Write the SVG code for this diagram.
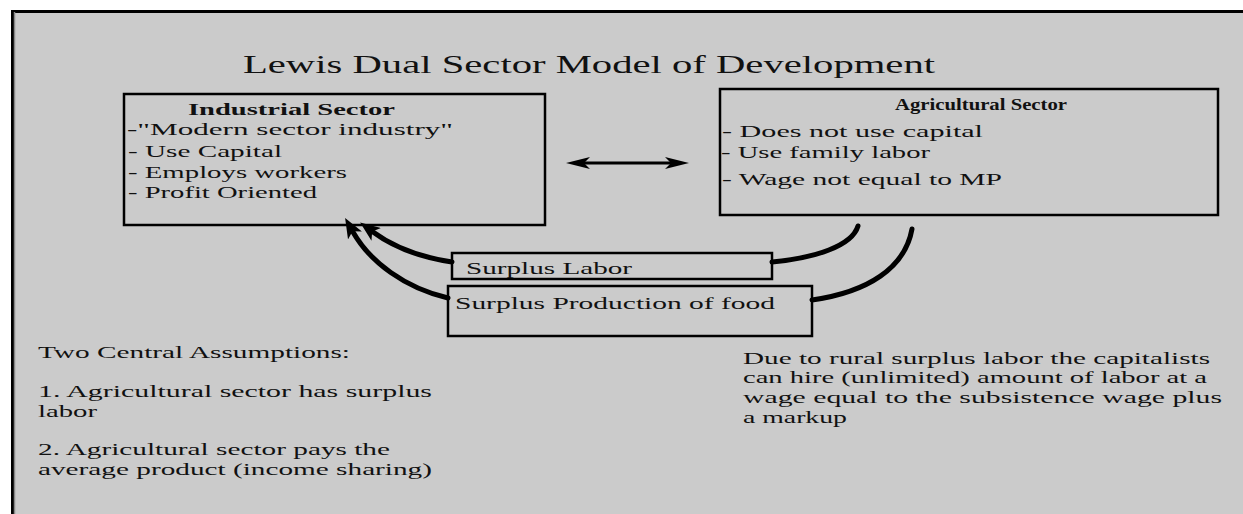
<svg xmlns="http://www.w3.org/2000/svg" width="1243" height="514" viewBox="0 0 1243 514">
<defs>
<style>
.t{font-family:"Liberation Serif","Times New Roman",serif;fill:#111;}
.b{font-size:17px;}
.h{font-size:17px;font-weight:bold;}
.box{fill:none;stroke:#000;stroke-width:2.5;}
.flow{fill:none;stroke:#000;stroke-width:5;stroke-linecap:round;}
</style>
<marker id="ah" viewBox="0 0 20 16" refX="4" refY="8" markerWidth="20" markerHeight="16" markerUnits="userSpaceOnUse" orient="auto">
<path d="M0,0 L20,8 L0,16 L5,8 Z" fill="#000"/>
</marker>
<marker id="dh" viewBox="0 0 24 12" refX="6" refY="6" markerWidth="24" markerHeight="12" markerUnits="userSpaceOnUse" orient="auto-start-reverse">
<path d="M0,0 L24,6 L0,12 L6,6 Z" fill="#000"/>
</marker>
</defs>
<rect x="0" y="0" width="1243" height="514" fill="#fff"/>
<rect x="12" y="10" width="1231" height="504" fill="#cbcbcb"/>
<line x1="12" y1="11.5" x2="1243" y2="11.5" stroke="#000" stroke-width="3"/>
<line x1="12.5" y1="10" x2="12.5" y2="514" stroke="#000" stroke-width="3"/>
<line x1="14.5" y1="12" x2="14.5" y2="514" stroke="#888" stroke-width="1.5"/>

<text id="title" class="t" x="243" y="73" font-size="26" textLength="692" lengthAdjust="spacingAndGlyphs">Lewis Dual Sector Model of Development</text>

<g id="industrial">
<rect class="box" x="124" y="94" width="421" height="131"/>
<text class="t h" x="188" y="115" textLength="207" lengthAdjust="spacingAndGlyphs">Industrial Sector</text>
<text class="t b" x="127" y="135" textLength="326" lengthAdjust="spacingAndGlyphs">-"Modern sector industry"</text>
<text class="t b" x="128" y="157" textLength="154" lengthAdjust="spacingAndGlyphs">- Use Capital</text>
<text class="t b" x="128" y="178" textLength="219" lengthAdjust="spacingAndGlyphs">- Employs workers</text>
<text class="t b" x="128" y="198" textLength="189" lengthAdjust="spacingAndGlyphs">- Profit Oriented</text>
</g>

<g id="agricultural">
<rect class="box" x="720" y="89" width="498" height="126"/>
<text class="t h" x="895" y="110" font-size="16" textLength="172" lengthAdjust="spacingAndGlyphs">Agricultural Sector</text>
<text class="t b" x="722" y="137" textLength="261" lengthAdjust="spacingAndGlyphs">- Does not use capital</text>
<text class="t b" x="721" y="158" textLength="209" lengthAdjust="spacingAndGlyphs">- Use family labor</text>
<text class="t b" x="722" y="185" textLength="280" lengthAdjust="spacingAndGlyphs">- Wage not equal to MP</text>
</g>

<g id="surplus-labor">
<rect class="box" x="452" y="253" width="320" height="26"/>
<text class="t b" x="466" y="274" textLength="166" lengthAdjust="spacingAndGlyphs">Surplus Labor</text>
</g>

<g id="surplus-food">
<rect class="box" x="448" y="286" width="364" height="50"/>
<text class="t b" x="455" y="309" textLength="320" lengthAdjust="spacingAndGlyphs">Surplus Production of food</text>
</g>

<g id="connectors">
<line x1="584" y1="163" x2="671" y2="163" stroke="#000" stroke-width="3" marker-start="url(#dh)" marker-end="url(#dh)"/>
<path class="flow" d="M858,226 C852,246 815,258 772,262"/>
<path class="flow" d="M912,229 C905,268 868,292 812,300"/>
<path class="flow" d="M452,262 C418,257 392,246 373,232" marker-end="url(#ah)"/>
<path class="flow" d="M448,298 C405,288 370,262 353,232" marker-end="url(#ah)"/>
</g>

<g id="assumptions">
<text class="t b" x="38" y="358" textLength="312" lengthAdjust="spacingAndGlyphs">Two Central Assumptions:</text>
<text class="t b" x="38" y="397" textLength="394" lengthAdjust="spacingAndGlyphs">1. Agricultural sector has surplus</text>
<text class="t b" x="38" y="417" textLength="59" lengthAdjust="spacingAndGlyphs">labor</text>
<text class="t b" x="38" y="455" textLength="352" lengthAdjust="spacingAndGlyphs">2. Agricultural sector pays the</text>
<text class="t b" x="38" y="475" textLength="394" lengthAdjust="spacingAndGlyphs">average product (income sharing)</text>
</g>

<g id="note">
<text class="t b" x="743" y="364" textLength="467" lengthAdjust="spacingAndGlyphs">Due to rural surplus labor the capitalists</text>
<text class="t b" x="743" y="383" textLength="464" lengthAdjust="spacingAndGlyphs">can hire (unlimited) amount of labor at a</text>
<text class="t b" x="743" y="403" textLength="479" lengthAdjust="spacingAndGlyphs">wage equal to the subsistence wage plus</text>
<text class="t b" x="743" y="423" textLength="104" lengthAdjust="spacingAndGlyphs">a markup</text>
</g>
</svg>
